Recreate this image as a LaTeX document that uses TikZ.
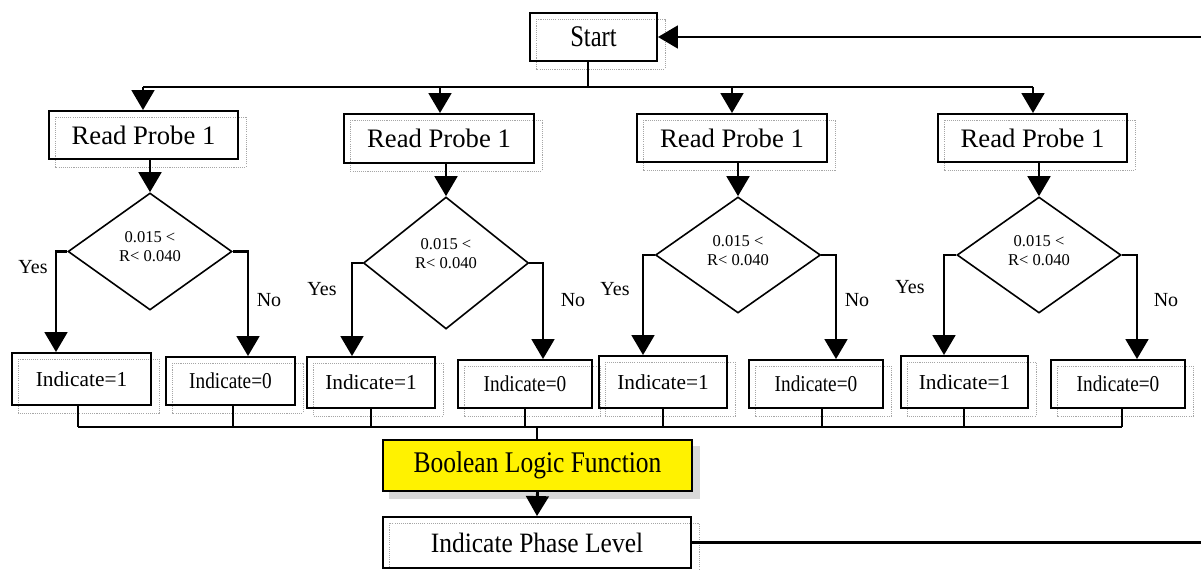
\documentclass[tikz,border=0pt]{standalone}
\usepackage{fontspec}
\setmainfont{Liberation Serif}
\usepackage{graphicx}
\usetikzlibrary{arrows.meta,shapes.geometric}
\pgfdeclarelayer{bg}
\pgfsetlayers{bg,main}
\newcommand{\cnd}[2]{\scalebox{#1}[1]{#2}}
\newcommand{\fRP}{\fontsize{20}{24}\selectfont}
\newcommand{\fIone}{\fontsize{16}{19}\selectfont}
\newcommand{\fIzero}{\fontsize{17}{20}\selectfont}
\newcommand{\fDia}{\fontsize{12.4}{14.3}\selectfont}
\newcommand{\fLbl}{\fontsize{15}{18}\selectfont}
\newcommand{\fBig}{\fontsize{22.5}{26}\selectfont}
\newcommand{\fPh}{\fontsize{21}{25}\selectfont}
\begin{document}
\begin{tikzpicture}[x=0.75pt,y=-0.75pt,
  box/.style 2 args={draw, line width=1.4pt, inner sep=0pt,
    minimum width=#1*0.75pt, minimum height=#2*0.75pt},
  dia/.style 2 args={draw, diamond, line width=1.2pt, inner sep=0pt,
    minimum width=#1*0.75pt, minimum height=#2*0.75pt},
  dtxt/.style={font=\fDia, align=center, inner sep=0pt},
  lbl/.style={font=\fLbl, inner sep=0pt},
  conn/.style={line width=2.2pt},
  arr/.style={conn, -{Triangle[width=17pt,length=15pt]}},
  dotf/.style={draw=gray!70, line width=0.6pt, dash pattern=on 0.8pt off 0.8pt},
]
\useasboundingbox (0,0) rectangle (1201,570);

% ---------- Start ----------
\node[box={127}{48}, font=\fBig] (start) at (593.5,37) {\cnd{0.82}{Start}};

% ---------- Column 1 ----------
\node[box={189}{48}, font=\fRP] (r1) at (143.5,135) {Read Probe 1};
\node[dia={164}{117}] (d1) at (150,251.5) {};
\node[dtxt] (t1) at (150,247) {0.015 <\\R< 0.040};
\node[box={139}{52}, font=\fIone] (a1) at (81.5,379) {Indicate=1};
\node[box={129}{48}, font=\fIzero] (b1) at (230.5,381) {\cnd{0.85}{Indicate=0}};
\node[lbl] (ly1) at (33,267) {Yes};
\node[lbl] (ln1) at (269,300) {No};

% ---------- Column 2 ----------
\node[box={190}{49}, font=\fRP] (r2) at (439,138.5) {Read Probe 1};
\node[dia={165}{132}] (d2) at (446,263) {};
\node[dtxt] (t2) at (446,254) {0.015 <\\R< 0.040};
\node[box={128}{51}, font=\fIone] (a2) at (371,382.5) {Indicate=1};
\node[box={134}{48}, font=\fIzero] (b2) at (525,384) {\cnd{0.85}{Indicate=0}};
\node[lbl] (ly2) at (322,289) {Yes};
\node[lbl] (ln2) at (573,300) {No};

% ---------- Column 3 ----------
\node[box={190}{48}, font=\fRP] (r3) at (732,138) {Read Probe 1};
\node[dia={165}{116}] (d3) at (738,255) {};
\node[dtxt] (t3) at (738,251) {0.015 <\\R< 0.040};
\node[box={128}{52}, font=\fIone] (a3) at (663,382) {Indicate=1};
\node[box={134}{48}, font=\fIzero] (b3) at (816,384) {\cnd{0.85}{Indicate=0}};
\node[lbl] (ly3) at (615,289) {Yes};
\node[lbl] (ln3) at (857,300) {No};

% ---------- Column 4 ----------
\node[box={189}{48}, font=\fRP] (r4) at (1032.5,138) {Read Probe 1};
\node[dia={164}{116}] (d4) at (1039,255) {};
\node[dtxt] (t4) at (1039,251) {0.015 <\\R< 0.040};
\node[box={127}{52}, font=\fIone] (a4) at (964.5,382) {Indicate=1};
\node[box={134}{48}, font=\fIzero] (b4) at (1118,384) {\cnd{0.85}{Indicate=0}};
\node[lbl] (ly4) at (910,287) {Yes};
\node[lbl] (ln4) at (1166,300) {No};

% ---------- Bottom ----------
\node[box={309}{51}, fill=yellow, font=\fBig] (bool) at (537.5,465.5) {\cnd{0.85}{Boolean Logic Function}};
\node[box={308}{51}, font=\fPh] (phase) at (537,542.5) {\cnd{0.91}{Indicate Phase Level}};

% ---------- dotted frames ----------
\begin{pgfonlayer}{bg}
  \foreach \n in {start,r1,a1,b1,r2,a2,b2,r3,a3,b3,r4,a4,b4,phase}
    \draw[dotf] ([shift={(7,7)}]\n.north west) rectangle ([shift={(7,7)}]\n.south east);
  \fill[gray!30] ([shift={(7,7)}]bool.north west) rectangle ([shift={(7,7)}]bool.south east);
\end{pgfonlayer}

% ---------- coordinates ----------
\coordinate (st) at (588,87);
\coordinate (c1) at (143,87);
\coordinate (c2) at (440,87);
\coordinate (c3) at (732,87);
\coordinate (c4) at (1033,87);
\coordinate (yb1) at (56,251.5);
\coordinate (nb1) at (248,251.5);
\coordinate (yb2) at (352,263);
\coordinate (nb2) at (543,263);
\coordinate (yb3) at (643,255);
\coordinate (nb3) at (836,255);
\coordinate (yb4) at (944,255);
\coordinate (nb4) at (1137,255);
\coordinate (s1) at (78,427);
\coordinate (s2) at (233,427);
\coordinate (s3) at (371,427);
\coordinate (s4) at (525,427);
\coordinate (s5) at (663,427);
\coordinate (s6) at (822,427);
\coordinate (s7) at (964,427);
\coordinate (s8) at (1122,427);
\coordinate (j) at (537,427);
\coordinate (rt) at (1201,37);
\coordinate (rb) at (1201,542.5);

% ---------- connectors ----------
\draw[conn] (st |- start.south) -- (st);
\draw[conn] (c1) -- (c4);
\foreach \k in {1,2,3,4} {
  \draw[arr] (c\k) -- (c\k |- r\k.north);
  \draw[arr] (r\k.south -| d\k.north) -- (d\k.north);
  \draw[arr] (d\k.west) -- (yb\k) -- (yb\k |- a\k.north);
  \draw[arr] (d\k.east) -- (nb\k) -- (nb\k |- b\k.north);
}
\draw[conn] (a1.south -| s1) -- (s1);
\draw[conn] (b1.south -| s2) -- (s2);
\draw[conn] (a2.south -| s3) -- (s3);
\draw[conn] (b2.south -| s4) -- (s4);
\draw[conn] (a3.south -| s5) -- (s5);
\draw[conn] (b3.south -| s6) -- (s6);
\draw[conn] (a4.south -| s7) -- (s7);
\draw[conn] (b4.south -| s8) -- (s8);
\draw[conn] (s1) -- (s8);
\draw[conn] (j) -- (j |- bool.north);
\draw[arr] (bool.south) -- (phase.north);
\draw[conn] (phase.east) -- (rb);
\draw[arr] (rt) -- (start.east);
\end{tikzpicture}
\end{document}
